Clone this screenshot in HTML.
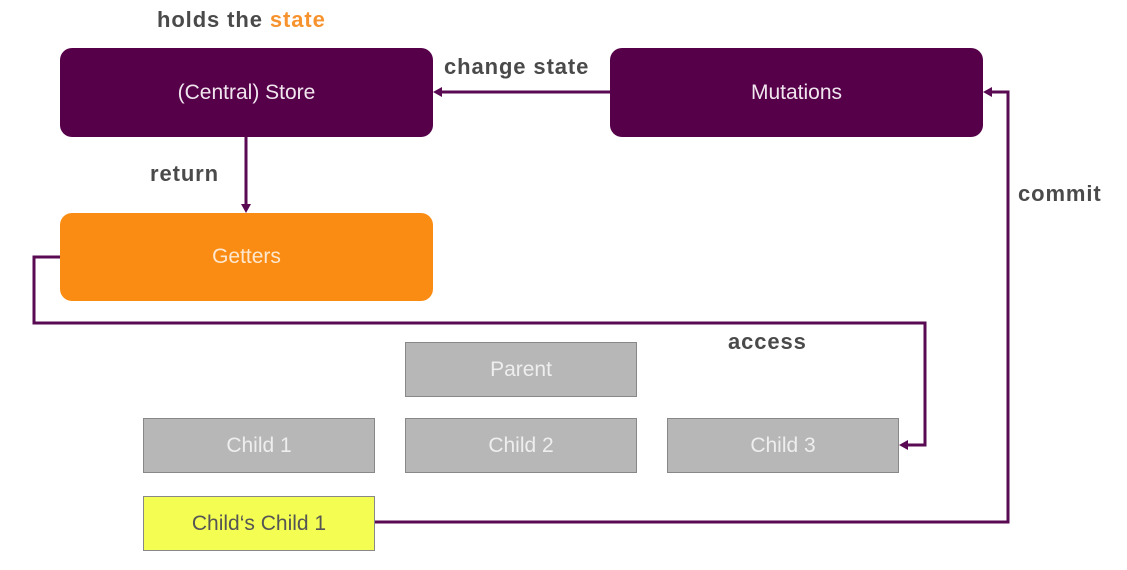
<!DOCTYPE html>
<html><head><style>
body{margin:0;width:1127px;height:570px;background:#fff;position:relative;overflow:hidden;font-family:"Liberation Sans",sans-serif}
.b{position:absolute;display:flex;align-items:center;justify-content:center;font-size:21px;box-sizing:border-box}
.p{background:#56004a;color:#f0e6ee;border-radius:12px}
.o{background:#fb8c13;color:#fde7cf;border-radius:12px}
.g{background:#b7b7b7;color:#eeeeee;border:1.5px solid #888}
.y{background:#f4fd52;color:#555;border:1.5px solid #888}
.l{position:absolute;font-weight:bold;color:#4a4a4a;font-size:22px;letter-spacing:0.9px;white-space:nowrap}
</style></head><body>
<svg width="1127" height="570" style="position:absolute;left:0;top:0">
<g fill="none" stroke="#5a0a52" stroke-width="3">
<path d="M60 257H34V323H925V445H905"/>
<path d="M375 522H1008V92H989"/>
<path d="M246 137V206"/>
<path d="M610 92H440"/>
</g>
<g fill="#5a0a52">
<path d="M899 445l9-5v10z"/>
<path d="M983 92l9-5v10z"/>
<path d="M246 213l-5-9h10z"/>
<path d="M433 92l9-5v10z"/>
</g>
</svg>
<div class="b p" style="left:60px;top:48px;width:373px;height:89px">(Central) Store</div>
<div class="b p" style="left:610px;top:48px;width:373px;height:89px">Mutations</div>
<div class="b o" style="left:60px;top:213px;width:373px;height:88px">Getters</div>
<div class="b g" style="left:405px;top:342px;width:232px;height:55px">Parent</div>
<div class="b g" style="left:143px;top:418px;width:232px;height:55px">Child 1</div>
<div class="b g" style="left:405px;top:418px;width:232px;height:55px">Child 2</div>
<div class="b g" style="left:667px;top:418px;width:232px;height:55px">Child 3</div>
<div class="b y" style="left:143px;top:496px;width:232px;height:55px">Child‘s Child 1</div>
<div class="l" style="left:157px;top:7px">holds the <span style="color:#f7932e">state</span></div>
<div class="l" style="left:444px;top:54px">change state</div>
<div class="l" style="left:150px;top:161px">return</div>
<div class="l" style="left:728px;top:329px">access</div>
<div class="l" style="left:1018px;top:181px">commit</div>
</body></html>
